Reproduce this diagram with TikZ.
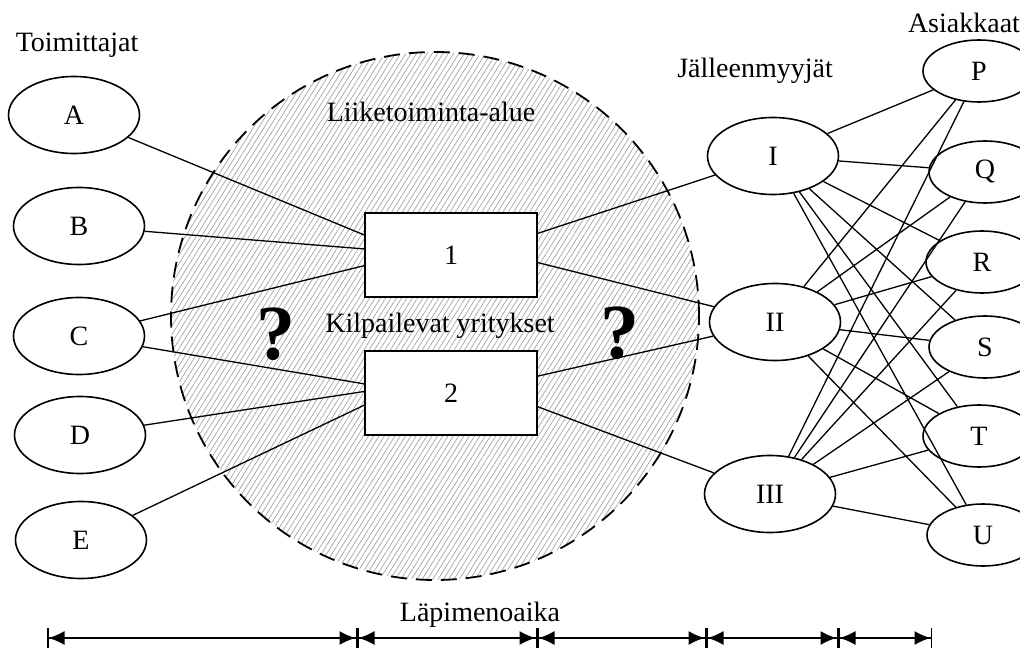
\documentclass[tikz,border=0pt]{standalone}
\usepackage{fontspec}
\setmainfont{Liberation Serif}
\usetikzlibrary{arrows.meta,shapes.geometric,patterns.meta,positioning}

\begin{document}
\begin{tikzpicture}[x=1pt,y=-1pt,
bignode/.style={ellipse, draw, line width=1.6pt, minimum width=131pt, minimum height=77pt, inner sep=0pt},
smallnode/.style={ellipse, draw, line width=1.6pt, minimum width=112pt, minimum height=62pt, inner sep=0pt},
firmnode/.style={rectangle, draw, fill=white, line width=1.6pt, minimum width=172pt, minimum height=84pt},
zonenode/.style={circle, draw, line width=1.8pt, dash pattern=on 16pt off 9pt, minimum size=528pt, inner sep=0pt,
  pattern={Lines[angle=58,distance=4.5pt,line width=0.6pt]}, pattern color=gray!80},
heading/.style={anchor=base, inner sep=0pt},
asknode/.style={inner sep=0pt, font=\fontsize{78}{78}\selectfont\bfseries},
link/.style={line width=1.3pt},
timespan/.style={line width=1.5pt, arrows={Bar[width=20pt,line width=1.5pt]Latex[length=16pt,width=14pt]-Latex[length=16pt,width=14pt]Bar[width=20pt,line width=1.5pt]}},
every node/.append style={font=\fontsize{28}{34}\selectfont}]
\useasboundingbox (0,0) rectangle (1020,652);
% Area
\node[zonenode] (area) at (435,316) {};
\node[heading] (areatext) at (431,122) {Liiketoiminta-alue};
\node[heading] (rivals) at (440,332) {Kilpailevat yritykset};
\node[asknode] (ask1) at (276,334) {?};
\node[asknode] (ask2) at (620,333) {?};
% Nodes
\node[heading] (suppliers) at (77,52) {Toimittajat};
\node[heading] (resellers) at (755,78) {Jälleenmyyjät};
\node[heading] (customers) at (964,33) {Asiakkaat};
\node[bignode] (A) at (74,115) {A};
\node[bignode] (B) at (79,226) {B};
\node[bignode] (C) at (79,336) {C};
\node[bignode] (D) at (80,435) {D};
\node[bignode] (E) at (81,540) {E};
\node[firmnode] (f1) at (451,255) {1};
\node[firmnode] (f2) at (451,393) {2};
\node[bignode] (I) at (773,156) {I};
\node[bignode] (II) at (775,322) {II};
\node[bignode] (III) at (770,494) {III};
\node[smallnode] (P) at (979,71) {P};
\node[smallnode] (Q) at (985,172) {Q};
\node[smallnode] (R) at (982,262) {R};
\node[smallnode] (S) at (985,347) {S};
\node[smallnode] (T) at (979,436) {T};
\node[smallnode] (U) at (983,535) {U};
% Lines
\draw[link] (A) -- (f1.167);
\draw[link] (B) -- (f1.176);
\draw[link] (C) -- (f1.187);
\draw[link] (C) -- (f2.174);
\draw[link] (D) -- (f2.179);
\draw[link] (E) -- (f2.188);
\draw[link] (f1.14) -- (I);
\draw[link] (f1.355) -- (II);
\draw[link] (f2.11) -- (II);
\draw[link] (f2.351) -- (III);
\draw[link] (I) -- (P);
\draw[link] (I) -- (Q);
\draw[link] (I) -- (R);
\draw[link] (I) -- (S);
\draw[link] (I) -- (T);
\draw[link] (I) -- (U);
\draw[link] (II) -- (P);
\draw[link] (II) -- (Q);
\draw[link] (II) -- (R);
\draw[link] (II) -- (S);
\draw[link] (II) -- (T);
\draw[link] (II) -- (U);
\draw[link] (III) -- (P);
\draw[link] (III) -- (Q);
\draw[link] (III) -- (R);
\draw[link] (III) -- (S);
\draw[link] (III) -- (T);
\draw[link] (III) -- (U);
% Time axis
\node[heading] (leadtime) at (480,621) {Läpimenoaika};
\coordinate (t0) at (47,638);
\coordinate (t1) at (357,638);
\coordinate (t2) at (537,638);
\coordinate (t3) at (706,638);
\coordinate (t4) at (838,638);
\coordinate (t5) at (932,638);
\draw[timespan] (t0) -- (t1);
\draw[timespan] (t1) -- (t2);
\draw[timespan] (t2) -- (t3);
\draw[timespan] (t3) -- (t4);
\draw[timespan] (t4) -- (t5);
\end{tikzpicture}
\end{document}
